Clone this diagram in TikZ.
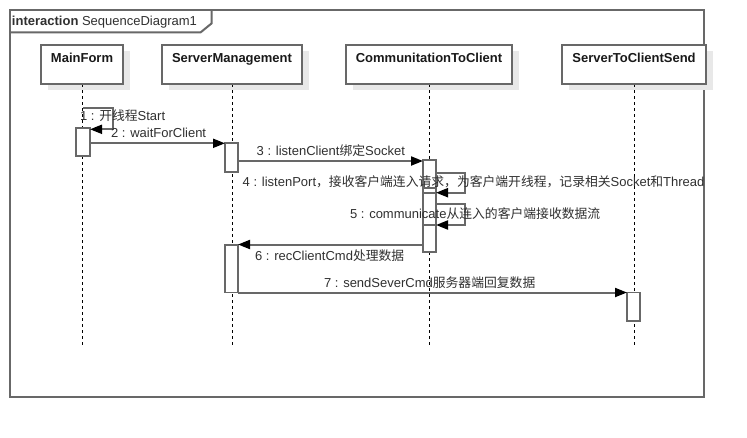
\documentclass[tikz,border=0pt]{standalone}
\usepackage{fontspec}
\setmainfont{Liberation Sans}
\newfontfamily\cjk{Noto Sans CJK SC}[Scale=0.985]
\usetikzlibrary{arrows.meta}
\definecolor{ln}{HTML}{686868}
\definecolor{sh}{HTML}{E8E8E8}
\definecolor{tx}{HTML}{303030}
\begin{document}
\begin{tikzpicture}[x=1pt,y=-1pt,
  every node/.style={inner sep=0pt,outer sep=0pt,font=\fontsize{13}{15}\selectfont,text=tx},
  head/.style={draw=ln,line width=1.4pt,fill=white,anchor=north west,minimum height=39pt},
  headtxt/.style={anchor=base,font=\bfseries\fontsize{13}{15}\selectfont,text=black!90},
  lifeline/.style={draw=black,line width=0.8pt,dash pattern=on 3pt off 3pt},
  act/.style={draw=ln,line width=1.8pt,fill=white},
  msg/.style={draw=ln,line width=2pt,-{Triangle[length=12pt,width=9pt,fill=black,color=black]}},
  lbl/.style={anchor=base west},
  frm/.style={draw=ln,line width=2pt}]
\useasboundingbox (0,0) rectangle (747,437);
\fill[white] (0,0) rectangle (747,437);
% frame
\draw[frm] (10,10) rectangle (704,396.5);
\draw[frm] (10,32.3) -- (200.7,32.3) -- (211.7,23.3) -- (211.7,10);
\node[lbl] (ftitle) at (12,25) {\textbf{interaction} SequenceDiagram1};
% head shadows
\foreach \a/\b in {41/123,162/302,346/512,562/706}{
  \fill[sh] (\a+7,51) rectangle (\b+7,90);
}
% lifelines
\coordinate (l1t) at (82,84); \coordinate (l1b) at (82,345);
\coordinate (l2t) at (232,84); \coordinate (l2b) at (232,345);
\coordinate (l3t) at (429,84); \coordinate (l3b) at (429,345);
\coordinate (l4t) at (634,84); \coordinate (l4b) at (634,345);
\draw[lifeline] (l1t) -- (l1b);
\draw[lifeline] (l2t) -- (l2b);
\draw[lifeline] (l3t) -- (l3b);
\draw[lifeline] (l4t) -- (l4b);
% heads
\node[head,minimum width=82pt] (h1) at (41,45) {};
\node[head,minimum width=140pt] (h2) at (162,45) {};
\node[head,minimum width=166pt] (h3) at (346,45) {};
\node[head,minimum width=144pt] (h4) at (562,45) {};
\node[headtxt] (t1) at (82,62.5) {MainForm};
\node[headtxt] (t2) at (232,62.5) {ServerManagement};
\node[headtxt] (t3) at (429,62.5) {CommunitationToClient};
\node[headtxt] (t4) at (634,62.5) {ServerToClientSend};
% activations
\draw[act] (76,128.3) rectangle (90,156);
\draw[act] (225,143.3) rectangle (238,172);
\draw[act] (423,160) rectangle (436,252);
\draw[act] (423,188) -- (436,188);
\draw[act] (423,193) rectangle (436,225);
\draw[act] (225,245) rectangle (238,292.5);
\draw[act] (627,292.5) rectangle (640,321);
% message endpoints
\coordinate (m1a) at (83,108.3);
\coordinate (m1b) at (90,129.3);
\coordinate (m2a) at (90,143.3); \coordinate (m2b) at (225,143.3);
\coordinate (m3a) at (238,161); \coordinate (m3b) at (423,161);
\coordinate (m4a) at (436,172.7); \coordinate (m4b) at (436,192.7);
\coordinate (m5a) at (436,204); \coordinate (m5b) at (436,225);
\coordinate (m6a) at (423,244.5); \coordinate (m6b) at (238,244.5);
\coordinate (m7a) at (238,292.5); \coordinate (m7b) at (627,292.5);
\draw[msg] (m1a) -- (112.7,108.3) -- (112.7,129.3) -- (m1b);
\draw[msg] (m2a) -- (m2b);
\draw[msg] (m3a) -- (m3b);
\draw[msg] (m4a) -- (465,172.7) -- (465,192.7) -- (m4b);
\draw[msg] (m5a) -- (465,204) -- (465,225) -- (m5b);
\draw[msg] (m6a) -- (m6b);
\draw[msg] (m7a) -- (m7b);
% labels
\node[lbl] (L1) at (80,120) {1 : {\cjk 开线程}Start};
\node[lbl] (L2) at (111,137.5) {2 : waitForClient};
\node[lbl] (L3) at (256.7,155.7) {3 : listenClient{\cjk 绑定}Socket};
\node[lbl] (L4) at (242.7,186) {4 : listenPort{\cjk ，接收客户端连入请求，为客户端开线程，记录相关}Socket{\cjk 和}Thread};
\node[lbl] (L5) at (350,218) {5 : communicate{\cjk 从连入的客户端接收数据流}};
\node[lbl] (L6) at (255,260) {6 : recClientCmd{\cjk 处理数据}};
\node[lbl] (L7) at (324,287) {7 : sendSeverCmd{\cjk 服务器端回复数据}};
\end{tikzpicture}
\end{document}
